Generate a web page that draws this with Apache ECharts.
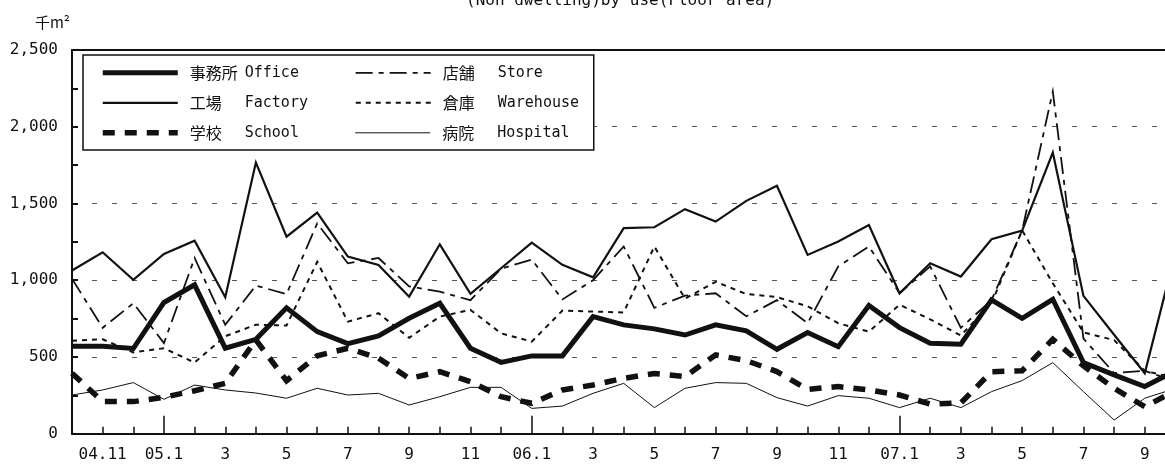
<!DOCTYPE html>
<html>
<head>
<meta charset="utf-8">
<script src="https://cdn.jsdelivr.net/npm/echarts@6/dist/echarts.min.js"></script>
<style>
  html, body { margin: 0; padding: 0; background: #fff; }
  #chart { width: 1165px; height: 465px; }
</style>
</head>
<body>
<div id="chart"></div>
<script>
// months 04.10 .. 07.10
const months = [
  "04.10", "04.11", "04.12",
  "05.1", "05.2", "05.3", "05.4", "05.5", "05.6", "05.7", "05.8", "05.9", "05.10", "05.11", "05.12",
  "06.1", "06.2", "06.3", "06.4", "06.5", "06.6", "06.7", "06.8", "06.9", "06.10", "06.11", "06.12",
  "07.1", "07.2", "07.3", "07.4", "07.5", "07.6", "07.7", "07.8", "07.9", "07.10"
];
const xLabels = [
  "", "04.11", "",
  "05.1", "", "3", "", "5", "", "7", "", "9", "", "11", "",
  "06.1", "", "3", "", "5", "", "7", "", "9", "", "11", "",
  "07.1", "", "3", "", "5", "", "7", "", "9", ""
];
const yTicks = [0, 500, 1000, 1500, 2000, 2500];
const yLabels = ["0", "500", "1,000", "1,500", "2,000", "2,500"];

// 千m2
const office    = [570, 570, 555, 855, 970, 557, 615, 820, 665, 587, 637, 752, 850, 557, 465, 507, 507, 763, 709, 683, 643, 709, 670, 550, 659, 567, 835, 691, 589, 583, 872, 752, 876, 463, 383, 307, 410];
const factory   = [1063, 1182, 1002, 1171, 1258, 889, 1767, 1284, 1441, 1154, 1100, 893, 1234, 911, 1078, 1245, 1100, 1019, 1339, 1345, 1463, 1382, 1517, 1615, 1165, 1252, 1360, 915, 1111, 1024, 1267, 1323, 1832, 898, 645, 394, 1180];
const school    = [394, 209, 209, 237, 280, 328, 611, 345, 508, 557, 492, 360, 404, 339, 241, 198, 285, 317, 361, 392, 372, 513, 476, 405, 289, 307, 285, 252, 193, 200, 404, 410, 615, 442, 296, 176, 280];
const store     = [1010, 690, 850, 590, 1145, 710, 965, 910, 1370, 1110, 1145, 960, 925, 870, 1075, 1135, 875, 1000, 1220, 820, 900, 915, 765, 870, 720, 1090, 1220, 915, 1090, 690, 870, 1325, 2230, 620, 395, 410, 340];
const warehouse = [605, 615, 530, 557, 463, 635, 710, 705, 1120, 730, 785, 625, 763, 807, 654, 600, 802, 796, 790, 1220, 880, 990, 910, 890, 830, 720, 665, 840, 745, 640, 850, 1325, 980, 660, 610, 410, 360];
const hospital  = [252, 285, 333, 224, 317, 285, 265, 231, 296, 252, 263, 187, 241, 302, 302, 165, 180, 263, 328, 170, 296, 333, 328, 235, 180, 248, 231, 170, 231, 170, 274, 346, 463, 274, 89, 231, 295];

const namesJa = ["事務所", "工場", "学校", "店舗", "倉庫", "病院"];
const namesEn = ["Office", "Factory", "School", "Store", "Warehouse", "Hospital"];

const ink = "#111";
const mono = "'DejaVu Sans Mono', 'Noto Sans CJK JP', monospace";
const jpFont = "'Noto Sans CJK JP', sans-serif";

const chart = echarts.init(document.getElementById("chart"), null, { renderer: "canvas" });

function line(i, data, width, type) {
  return {
    name: namesJa[i] + " " + namesEn[i],
    type: "line",
    data: data,
    symbol: "none",
    silent: true,
    lineStyle: { color: ink, width: width, type: type, cap: "butt", join: "miter" },
    itemStyle: { color: ink }
  };
}

const option = {
  animation: false,
  backgroundColor: "#fff",
  title: {
    text: "(Non dwelling)by use(Floor area)",
    left: 466,
    top: -7,
    padding: 0,
    textStyle: { fontFamily: mono, fontSize: 16, fontWeight: "normal", color: ink }
  },
  grid: {
    left: 72, top: 50, right: -10.4, bottom: 31.3,
    containLabel: false, outerBoundsMode: "none"
  },
  legend: {
    left: 83,
    top: 55,
    orient: "horizontal",
    width: 520,
    padding: [9.8, 0, 9.2, 17],
    itemGap: 14,
    itemWidth: 75,
    itemHeight: 17,
    selectedMode: false,
    backgroundColor: "#fff",
    borderColor: ink,
    borderWidth: 1.5,
    borderRadius: 0,
    itemStyle: { opacity: 0 },
    lineStyle: { width: "inherit" },
    data: [0, 3, 1, 4, 2, 5].map(i => namesJa[i] + " " + namesEn[i]),
    formatter: function (name) {
      const k = name.indexOf(" ");
      return "{jp|" + name.slice(0, k) + "}{en|" + name.slice(k + 1) + "}";
    },
    textStyle: {
      color: ink,
      rich: {
        jp: { fontFamily: jpFont, fontSize: 16, width: 55, padding: [0, 0, 0, 7], lineHeight: 17, color: ink },
        en: { fontFamily: mono, fontSize: 15, width: 96, lineHeight: 17, color: ink }
      }
    }
  },
  xAxis: [
    {
      type: "category",
      data: months,
      boundaryGap: false,
      position: "bottom",
      axisLine: { show: true, lineStyle: { color: ink, width: 2 } },
      axisTick: { show: true, inside: true, length: 7, interval: 0, lineStyle: { color: ink, width: 1.5 } },
      axisLabel: {
        interval: 0,
        margin: 13,
        color: ink,
        fontFamily: mono,
        fontSize: 16,
        formatter: function (v, i) { return xLabels[i]; }
      },
      splitLine: { show: false }
    },
    {
      // longer ticks at January
      type: "category",
      data: months,
      boundaryGap: false,
      position: "bottom",
      axisLine: { show: false },
      axisTick: {
        show: true, inside: true, length: 18,
        interval: function (i, v) { return v.endsWith(".1"); },
        lineStyle: { color: ink, width: 1.5 }
      },
      axisLabel: { show: false },
      splitLine: { show: false }
    },
    {
      // top frame line
      type: "category",
      data: months,
      boundaryGap: false,
      position: "top",
      axisLine: { show: true, lineStyle: { color: ink, width: 2 } },
      axisTick: { show: false },
      axisLabel: { show: false },
      splitLine: { show: false }
    }
  ],
  yAxis: {
    type: "value",
    min: yTicks[0],
    max: yTicks[yTicks.length - 1],
    interval: 500,
    name: "千m²",
    nameLocation: "end",
    nameGap: 20,
    nameTextStyle: { fontFamily: jpFont, fontSize: 15, color: ink, align: "right", padding: [0, 2, 0, 0] },
    axisLine: { show: true, lineStyle: { color: ink, width: 2 } },
    axisTick: { show: true, inside: true, length: 6, lineStyle: { color: ink, width: 2 } },
    minorTick: { show: true, splitNumber: 2, length: 6, lineStyle: { color: ink, width: 2 } },
    axisLabel: {
      margin: 14,
      color: ink,
      fontFamily: mono,
      fontSize: 16,
      formatter: function (v) { return yLabels[yTicks.indexOf(v)]; }
    },
    splitLine: {
      show: true,
      showMinLine: false,
      showMaxLine: false,
      lineStyle: { color: "#555", width: 1, type: [5, 15] }
    }
  },
  series: [
    line(5, hospital, 1, "solid"),
    line(4, warehouse, 2, [5, 5]),
    line(3, store, 1.8, [17, 6, 5, 6]),
    line(2, school, 5.5, [12, 10]),
    line(1, factory, 2.2, "solid"),
    line(0, office, 5, "solid")
  ]
};

chart.setOption(option);
</script>
</body>
</html>
